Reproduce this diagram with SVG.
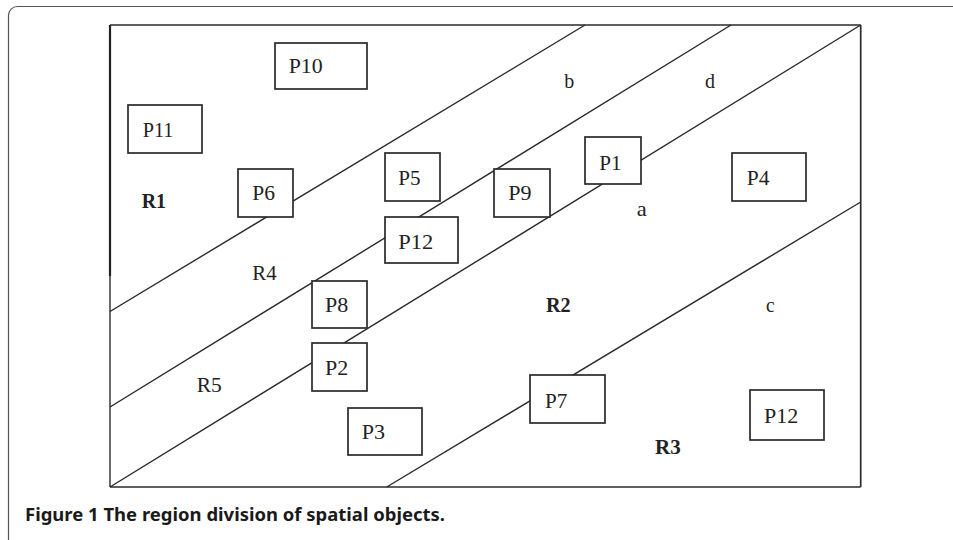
<svg xmlns="http://www.w3.org/2000/svg" width="953" height="540" viewBox="0 0 953 540">
  <style>
    .frame { fill: #ffffff; stroke: #555555; stroke-width: 1.2; }
    .border { fill: none; stroke: #2a2a2a; stroke-width: 1.7; }
    .divider { fill: none; stroke: #2a2a2a; stroke-width: 1.4; }
    .box { fill: #ffffff; stroke: #2a2a2a; stroke-width: 1.7; }
    .lbl { font-family: "Liberation Serif", "Times New Roman", serif; font-size: 22px; fill: #222222; }
    .region { font-family: "Liberation Serif", "Times New Roman", serif; font-size: 21px; font-weight: bold; fill: #222222; }
    .caption { font-family: "Noto Sans", "Open Sans", sans-serif; font-size: 17.5px; font-weight: bold; fill: #1a1a1a; }
  </style>

  <!-- outer panel -->
  <rect class="frame" x="8.5" y="6.5" width="970" height="560" rx="9" ry="9"/>

  <!-- plot area boundary -->
  <g id="boundary">
    <line class="border" x1="110" y1="25" x2="860.7" y2="25"/>
    <line class="border" x1="860.7" y1="25" x2="860.7" y2="487"/>
    <line class="border" x1="110" y1="487" x2="860.7" y2="487"/>
    <line x1="110" y1="25" x2="110" y2="276" stroke="#222222" stroke-width="2.2"/>
    <line class="divider" x1="110" y1="276" x2="110" y2="487"/>
  </g>

  <!-- dividing lines between regions -->
  <g id="connectors">
    <line class="divider" x1="110" y1="311.5" x2="585" y2="25"/>
    <line class="divider" x1="110" y1="407" x2="731" y2="25"/>
    <line class="divider" x1="110" y1="487" x2="860.7" y2="25"/>
    <line class="divider" x1="386.7" y1="487" x2="860.7" y2="202"/>
  </g>

  <!-- region and area labels -->
  <g id="labels">
    <text class="region" x="141.7" y="208.3" textLength="24.3" lengthAdjust="spacingAndGlyphs">R1</text>
    <text class="region" x="546" y="311.7" textLength="24.7" lengthAdjust="spacingAndGlyphs">R2</text>
    <text class="region" x="655" y="454" textLength="25.7" lengthAdjust="spacingAndGlyphs">R3</text>
    <text class="lbl" x="252.3" y="280" textLength="24.3" lengthAdjust="spacingAndGlyphs">R4</text>
    <text class="lbl" x="196.7" y="391.7" textLength="25" lengthAdjust="spacingAndGlyphs">R5</text>
    <text class="lbl" x="564.3" y="88.3" textLength="10" lengthAdjust="spacingAndGlyphs">b</text>
    <text class="lbl" x="705" y="88.3" textLength="10" lengthAdjust="spacingAndGlyphs">d</text>
    <text class="lbl" x="636.7" y="215.7" textLength="10" lengthAdjust="spacingAndGlyphs">a</text>
    <text class="lbl" x="766" y="311.7" textLength="8.5" lengthAdjust="spacingAndGlyphs">c</text>
  </g>

  <!-- spatial objects -->
  <g id="P10">
    <rect class="box" x="275" y="43" width="92" height="46"/>
    <text class="lbl" x="288.7" y="73.3" textLength="34" lengthAdjust="spacingAndGlyphs">P10</text>
  </g>
  <g id="P11">
    <rect class="box" x="128" y="105" width="74" height="48"/>
    <text class="lbl" x="142.7" y="137.3" textLength="30.7" lengthAdjust="spacingAndGlyphs">P11</text>
  </g>
  <g id="P6">
    <rect class="box" x="238" y="169" width="55" height="48"/>
    <text class="lbl" x="252.3" y="200" textLength="22.7" lengthAdjust="spacingAndGlyphs">P6</text>
  </g>
  <g id="P5">
    <rect class="box" x="385" y="153" width="55" height="48"/>
    <text class="lbl" x="398.3" y="185" textLength="22.3" lengthAdjust="spacingAndGlyphs">P5</text>
  </g>
  <g id="P12-upper">
    <rect class="box" x="385" y="217" width="73" height="46"/>
    <text class="lbl" x="398.3" y="249.3" textLength="35" lengthAdjust="spacingAndGlyphs">P12</text>
  </g>
  <g id="P9">
    <rect class="box" x="494" y="169" width="56" height="48"/>
    <text class="lbl" x="508.3" y="200" textLength="23.3" lengthAdjust="spacingAndGlyphs">P9</text>
  </g>
  <g id="P1">
    <rect class="box" x="585" y="137" width="56" height="47"/>
    <text class="lbl" x="599.3" y="170" textLength="22.3" lengthAdjust="spacingAndGlyphs">P1</text>
  </g>
  <g id="P4">
    <rect class="box" x="732" y="153" width="74" height="48"/>
    <text class="lbl" x="746.7" y="185" textLength="22.7" lengthAdjust="spacingAndGlyphs">P4</text>
  </g>
  <g id="P8">
    <rect class="box" x="312" y="281" width="55" height="47"/>
    <text class="lbl" x="325" y="311.7" textLength="23.3" lengthAdjust="spacingAndGlyphs">P8</text>
  </g>
  <g id="P2">
    <rect class="box" x="312" y="343" width="55" height="48"/>
    <text class="lbl" x="325" y="375" textLength="23.3" lengthAdjust="spacingAndGlyphs">P2</text>
  </g>
  <g id="P3">
    <rect class="box" x="348" y="408" width="74" height="47"/>
    <text class="lbl" x="361.7" y="439" textLength="23.3" lengthAdjust="spacingAndGlyphs">P3</text>
  </g>
  <g id="P7">
    <rect class="box" x="530" y="375" width="75" height="48"/>
    <text class="lbl" x="545" y="407.7" textLength="22.3" lengthAdjust="spacingAndGlyphs">P7</text>
  </g>
  <g id="P12-lower">
    <rect class="box" x="750" y="390" width="74" height="50"/>
    <text class="lbl" x="764" y="423.3" textLength="34.3" lengthAdjust="spacingAndGlyphs">P12</text>
  </g>

  <!-- caption -->
  <text class="caption" x="25" y="520.7" textLength="420" lengthAdjust="spacingAndGlyphs">Figure 1 The region division of spatial objects.</text>
</svg>
